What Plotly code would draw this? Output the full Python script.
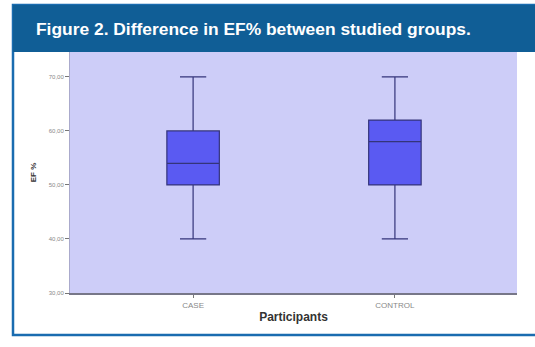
import plotly.graph_objects as go

categories = ["CASE", "CONTROL"]
q1 = [50, 50]
median = [54, 58]
q3 = [60, 62]
lower = [40, 40]
upper = [70, 70]
tick_vals = [30, 40, 50, 60, 70]
tick_text = ["30,00", "40,00", "50,00", "60,00", "70,00"]

fig = go.Figure()
fig.add_trace(go.Box(
    x=categories, q1=q1, median=median, q3=q3,
    lowerfence=lower, upperfence=upper,
    fillcolor="#5a5af2", line=dict(color="#34347a", width=1.2),
    width=0.26, whiskerwidth=0.5, boxpoints=False, showlegend=False,
    hoverinfo="skip",
))

fig.update_layout(
    width=535, height=347,
    margin=dict(l=70, r=18, t=52, b=54),
    paper_bgcolor="white",
    plot_bgcolor="#cdcdf8",
    font=dict(family="Liberation Sans, Arial, sans-serif", color="#888888"),
    xaxis=dict(
        type="category", range=[-0.61, 1.605],
        showgrid=False, zeroline=False,
        ticks="outside", ticklen=3, tickcolor="#777777",
        tickfont=dict(size=8, color="#888888"),
        showline=True, linecolor="#777788", linewidth=2,
        title=dict(text="<b>Participants</b>", font=dict(size=12, color="#333333"), standoff=4),
    ),
    yaxis=dict(
        range=[30, 74.6], tickvals=tick_vals, ticktext=tick_text,
        showgrid=False, zeroline=False,
        ticks="outside", ticklen=4, tickcolor="#777777",
        tickfont=dict(size=6, color="#888888"),
        showline=True, linecolor="#aaaacc", linewidth=1,
        title=dict(text="<b>EF %</b>", font=dict(size=8, color="#333333"), standoff=10),
    ),
    shapes=[
        dict(type="rect", xref="paper", yref="paper", layer="below",
             x0=-57/447, x1=502/447, y0=(293-335)/241, y1=(293-5)/241,
             line=dict(color="#1a6cb0", width=2.5), fillcolor="rgba(0,0,0,0)"),
        dict(type="rect", xref="paper", yref="paper", layer="below",
             x0=-57/447, x1=502/447, y0=(293-52)/241, y1=(293-5)/241,
             line=dict(width=0), fillcolor="#105e96"),
    ],
    annotations=[
        dict(text="<b>Figure 2. Difference in EF% between studied groups.</b>",
             xref="paper", yref="paper", x=-36/447, y=(293-29)/241,
             xanchor="left", yanchor="middle", showarrow=False,
             font=dict(size=17.4, color="white", family="Liberation Sans, Arial, sans-serif")),
    ],
)

fig.write_html("out.html", config={"displayModeBar": False},
               post_script="document.body.style.margin='0';")
